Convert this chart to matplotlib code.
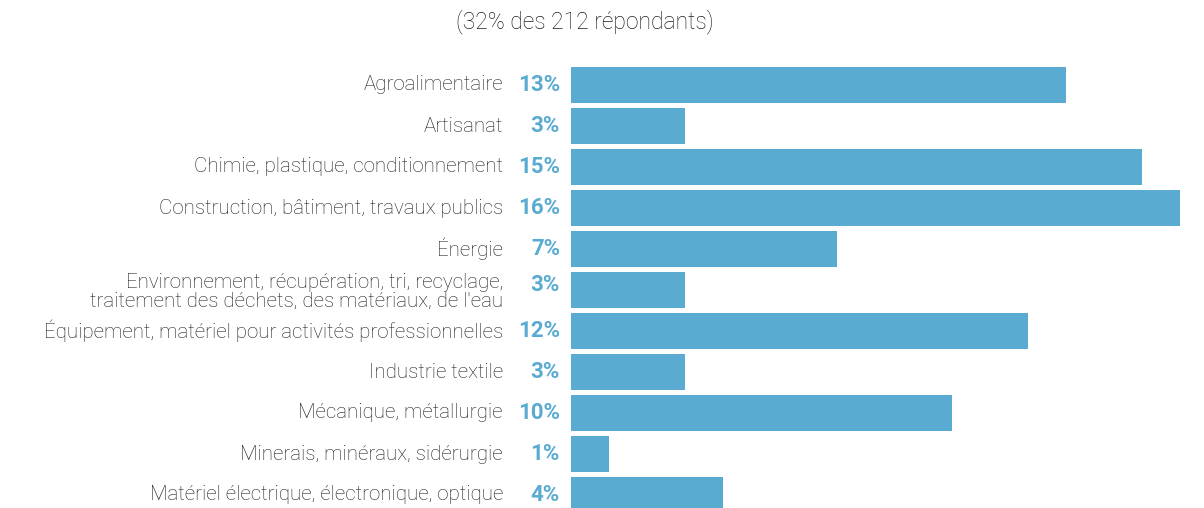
import matplotlib
matplotlib.use("Agg")
import matplotlib.pyplot as plt

categories = [
    "Agroalimentaire",
    "Artisanat",
    "Chimie, plastique, conditionnement",
    "Construction, bâtiment, travaux publics",
    "Énergie",
    "Environnement, récupération, tri, recyclage,\ntraitement des déchets, des matériaux, de l'eau",
    "Équipement, matériel pour activités professionnelles",
    "Industrie textile",
    "Mécanique, métallurgie",
    "Minerais, minéraux, sidérurgie",
    "Matériel électrique, électronique, optique",
]
values = [13, 3, 15, 16, 7, 3, 12, 3, 10, 1, 4]
value_labels = ["13%", "3%", "15%", "16%", "7%", "3%", "12%", "3%", "10%", "1%", "4%"]
subtitle = "(32% des 212 répondants)"

BAR = "#5aabd1"
TXT = "#1e1e1e"
FONT = ["Roboto", "DejaVu Sans"]

W, H = 1204, 508
fig = plt.figure(figsize=(W / 100, H / 100), dpi=100)
left = 571 / W
top_px = 64.5
ax = fig.add_axes([left, 0, 1 - left, 1 - top_px / H])

y = list(range(len(categories)))
ax.barh(y, values, height=0.9, color=BAR)
ax.set_xlim(0, 633 / 38.07)
ax.set_ylim(10 + (508 - 495) / 41, -0.5)
ax.axis("off")

for i, (cat, lab) in enumerate(zip(categories, value_labels)):
    if "\n" in cat:
        ax.text(-68 / 38.07, i + 0.05, cat, ha="right", va="center", fontsize=14.8,
                color=TXT, family=FONT, fontweight="light", linespacing=1.0, clip_on=False)
        ax.text(-11 / 38.07, i - 0.12, lab, ha="right", va="center", fontsize=16,
                color=BAR, family=FONT, fontweight="bold", clip_on=False)
    else:
        ax.text(-68 / 38.07, i, cat, ha="right", va="center", fontsize=14.8,
                color=TXT, family=FONT, fontweight="light", clip_on=False)
        ax.text(-11 / 38.07, i, lab, ha="right", va="center", fontsize=16,
                color=BAR, family=FONT, fontweight="bold", clip_on=False)

fig.text(585 / W, 1 - 22 / H, subtitle, ha="center", va="center", fontsize=16.5,
         color=TXT, family=FONT, fontweight="light")

fig.savefig("out.png", dpi=100)
